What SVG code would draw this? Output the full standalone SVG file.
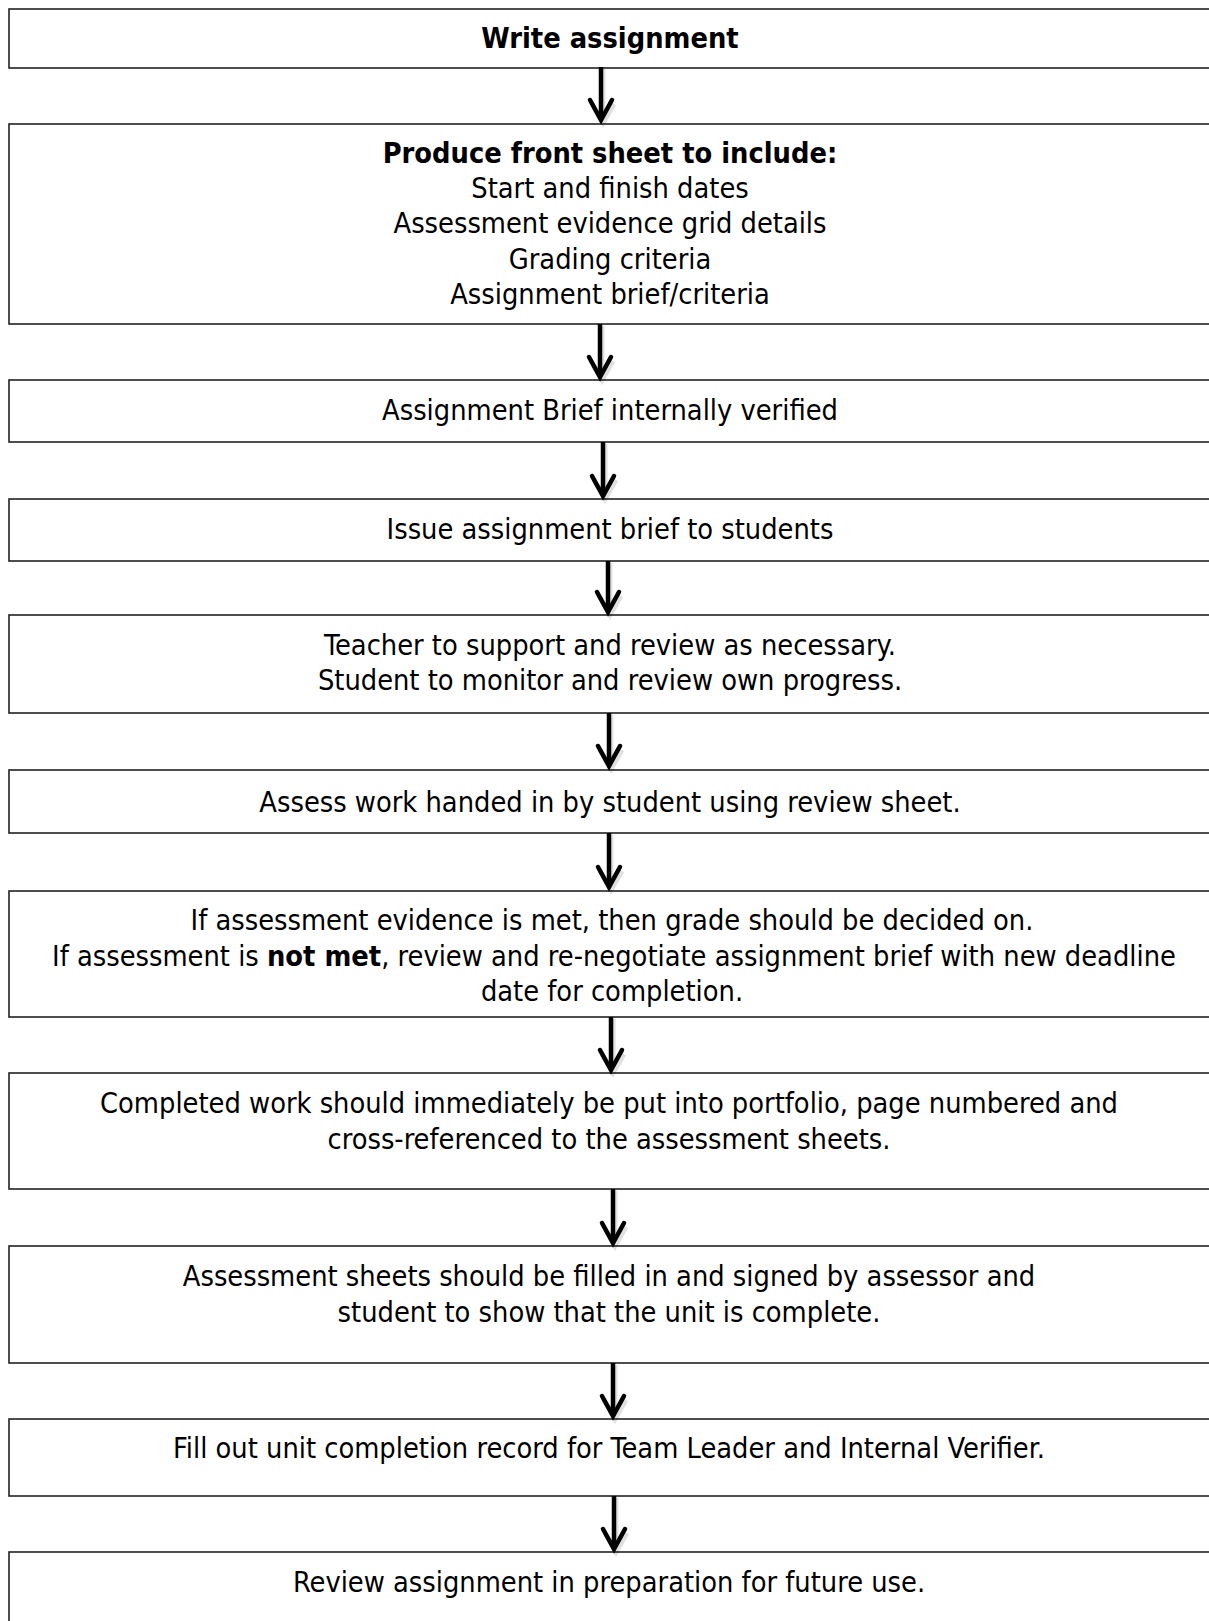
<svg xmlns="http://www.w3.org/2000/svg" width="1209" height="1621" viewBox="0 0 1209 1621">
<style>
.box{fill:#fff;stroke:#222;stroke-width:1.6}
.t{font-family:"DejaVu Sans Condensed","DejaVu Sans",sans-serif;font-size:28.7px;fill:#000;text-anchor:middle}
.b{font-weight:bold}
.sh{fill:none;stroke:#000;stroke-width:4.5;stroke-linecap:butt}
.hd{fill:none;stroke:#000;stroke-width:4.5;stroke-linecap:round;stroke-linejoin:miter}
.shadow{fill:none;stroke:#000;stroke-opacity:0.12;stroke-width:5}
</style>
<rect width="1209" height="1621" fill="#fff"/>
<g id="node1"><rect class="box" x="9" y="9" width="1210" height="59"/><text class="t b" x="610" y="48">Write assignment</text></g>
<g id="node2"><rect class="box" x="9" y="124" width="1210" height="200"/>
<text class="t b" x="610" y="163">Produce front sheet to include:</text>
<text class="t" x="610" y="198">Start and finish dates</text>
<text class="t" x="610" y="233">Assessment evidence grid details</text>
<text class="t" x="610" y="268.5">Grading criteria</text>
<text class="t" x="610" y="304">Assignment brief/criteria</text></g>
<g id="node3"><rect class="box" x="9" y="380" width="1210" height="62"/><text class="t" x="610" y="420">Assignment Brief internally verified</text></g>
<g id="node4"><rect class="box" x="9" y="499" width="1210" height="62"/><text class="t" x="610" y="539">Issue assignment brief to students</text></g>
<g id="node5"><rect class="box" x="9" y="615" width="1210" height="98"/>
<text class="t" x="610" y="654.5">Teacher to support and review as necessary.</text>
<text class="t" x="610" y="689.5">Student to monitor and review own progress.</text></g>
<g id="node6"><rect class="box" x="9" y="770" width="1210" height="63"/><text class="t" x="610" y="811.5">Assess work handed in by student using review sheet.</text></g>
<g id="node7"><rect class="box" x="9" y="891" width="1210" height="126"/>
<text class="t" x="612" y="929.5">If assessment evidence is met, then grade should be decided on.</text>
<text class="t" x="614" y="965.5">If assessment is <tspan class="b">not met</tspan>, review and re-negotiate assignment brief with new deadline</text>
<text class="t" x="612" y="1001">date for completion.</text></g>
<g id="node8"><rect class="box" x="9" y="1073" width="1210" height="116"/>
<text class="t" x="609" y="1112.5">Completed work should immediately be put into portfolio, page numbered and</text>
<text class="t" x="609" y="1148.5">cross-referenced to the assessment sheets.</text></g>
<g id="node9"><rect class="box" x="9" y="1246" width="1210" height="117"/>
<text class="t" x="609" y="1286">Assessment sheets should be filled in and signed by assessor and</text>
<text class="t" x="609" y="1321.5">student to show that the unit is complete.</text></g>
<g id="node10"><rect class="box" x="9" y="1419" width="1210" height="77"/><text class="t" x="609" y="1458">Fill out unit completion record for Team Leader and Internal Verifier.</text></g>
<g id="node11"><rect class="box" x="9" y="1552" width="1210" height="100"/><text class="t" x="609" y="1592">Review assignment in preparation for future use.</text></g>
<g id="connectors">
<g transform="translate(601,67)"><path class="shadow" d="M2,2 V55 M-9,37 L2,56 L13,37"/><path class="sh" d="M0,0 V52"/><path class="hd" d="M-11,33 L0,53 L11,33"/></g>
<g transform="translate(600,324)"><path class="shadow" d="M2,2 V55 M-9,37 L2,56 L13,37"/><path class="sh" d="M0,0 V52"/><path class="hd" d="M-11,33 L0,53 L11,33"/></g>
<g transform="translate(603,442)"><path class="shadow" d="M2,2 V56 M-9,38 L2,57 L13,38"/><path class="sh" d="M0,0 V53"/><path class="hd" d="M-11,34 L0,54 L11,34"/></g>
<g transform="translate(608,561)"><path class="shadow" d="M2,2 V53 M-9,35 L2,54 L13,35"/><path class="sh" d="M0,0 V50"/><path class="hd" d="M-11,31 L0,51 L11,31"/></g>
<g transform="translate(609,713)"><path class="shadow" d="M2,2 V55 M-9,37 L2,56 L13,37"/><path class="sh" d="M0,0 V52"/><path class="hd" d="M-11,33 L0,53 L11,33"/></g>
<g transform="translate(609,833)"><path class="shadow" d="M2,2 V56 M-9,38 L2,57 L13,38"/><path class="sh" d="M0,0 V53"/><path class="hd" d="M-11,34 L0,54 L11,34"/></g>
<g transform="translate(611,1017)"><path class="shadow" d="M2,2 V55 M-9,37 L2,56 L13,37"/><path class="sh" d="M0,0 V52"/><path class="hd" d="M-11,33 L0,53 L11,33"/></g>
<g transform="translate(613,1189)"><path class="shadow" d="M2,2 V56 M-9,38 L2,57 L13,38"/><path class="sh" d="M0,0 V53"/><path class="hd" d="M-11,34 L0,54 L11,34"/></g>
<g transform="translate(613,1363)"><path class="shadow" d="M2,2 V55 M-9,37 L2,56 L13,37"/><path class="sh" d="M0,0 V52"/><path class="hd" d="M-11,33 L0,53 L11,33"/></g>
<g transform="translate(614,1496)"><path class="shadow" d="M2,2 V55 M-9,37 L2,56 L13,37"/><path class="sh" d="M0,0 V52"/><path class="hd" d="M-11,33 L0,53 L11,33"/></g>
</g>
</svg>
